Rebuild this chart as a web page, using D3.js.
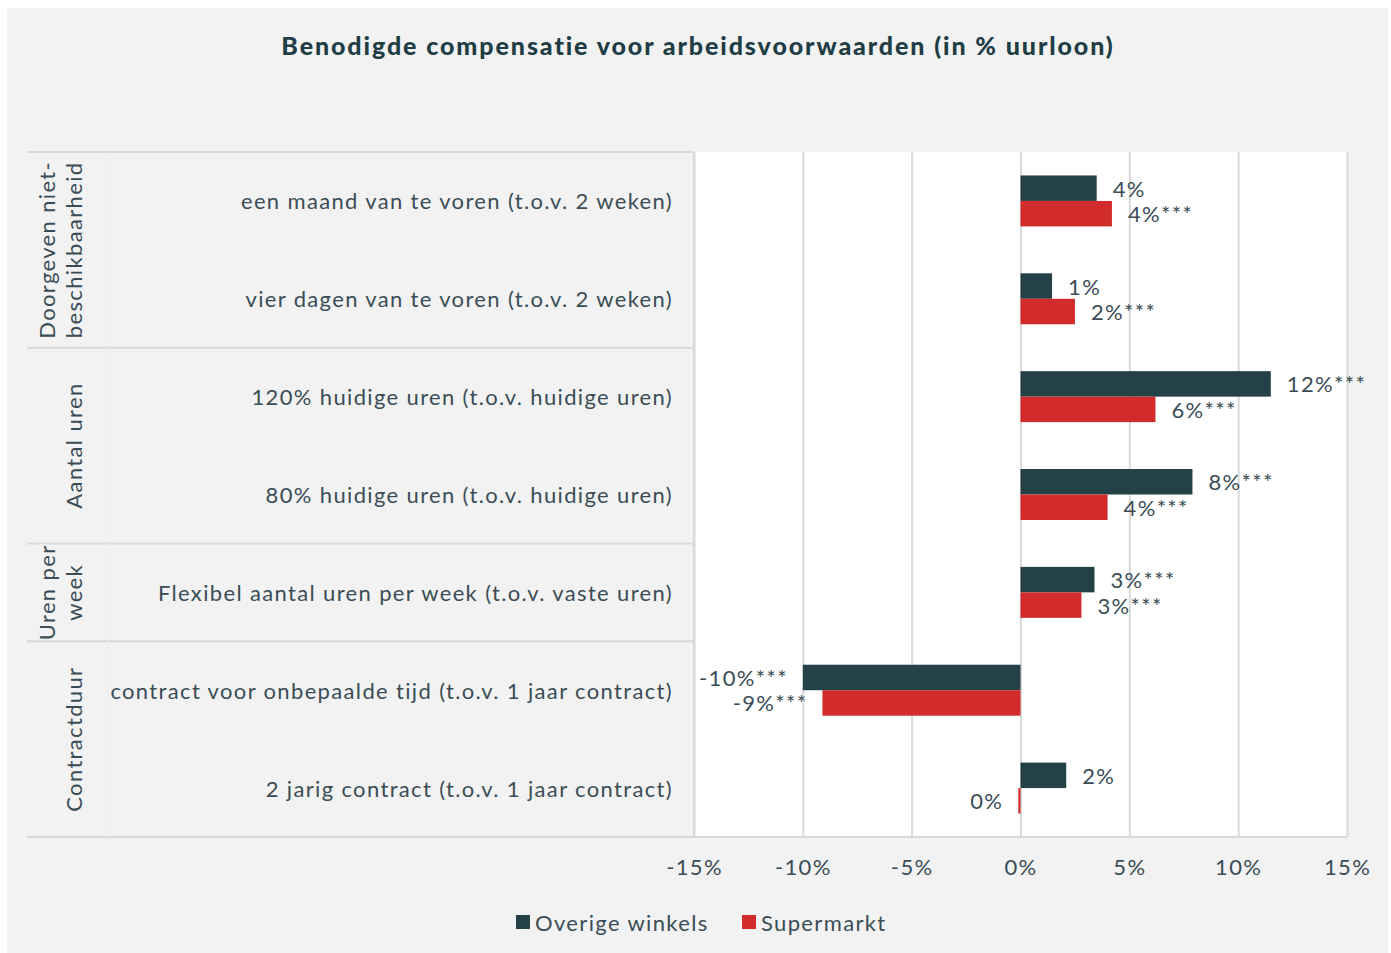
<!DOCTYPE html>
<html>
<head>
<meta charset="utf-8">
<script src="https://cdn.jsdelivr.net/npm/d3@7"></script>
<style>
  html, body { margin: 0; padding: 0; background: #ffffff; }
  svg { display: block; font-family: Lato, "Open Sans", sans-serif; }
  svg text { letter-spacing: 1.35px; }
  svg text.title { letter-spacing: 1.9px; }
</style>
</head>
<body>
<svg id="chart" width="1391" height="953"></svg>
<script>
// ---- data ----
const categories = [
  "een maand van te voren (t.o.v. 2 weken)",
  "vier dagen van te voren (t.o.v. 2 weken)",
  "120% huidige uren (t.o.v. huidige uren)",
  "80% huidige uren (t.o.v. huidige uren)",
  "Flexibel aantal uren per week (t.o.v. vaste uren)",
  "contract voor onbepaalde tijd (t.o.v. 1 jaar contract)",
  "2 jarig contract (t.o.v. 1 jaar contract)"
];
const groupNames = [
  ["Doorgeven niet-", "beschikbaarheid"],
  ["Aantal uren"],
  ["Uren per", "week"],
  ["Contractduur"]
];
const groupSizes = [2, 2, 1, 2];
const seriesNames = ["Overige winkels", "Supermarkt"];
const overigeValues = [3.5, 1.45, 11.5, 7.9, 3.4, -10.0, 2.1];
const supermarktValues = [4.2, 2.5, 6.2, 4.0, 2.8, -9.1, -0.1];
const overigeLabels = ["4%", "1%", "12%***", "8%***", "3%***", "-10%***", "2%"];
const supermarktLabels = ["4%***", "2%***", "6%***", "4%***", "3%***", "-9%***", "0%"];
const tickValues = [-15, -10, -5, 0, 5, 10, 15];
const titleText = "Benodigde compensatie voor arbeidsvoorwaarden (in % uurloon)";

// ---- styles ----
const colors = ["#254148", "#d22b2b"];
const textColor = "#3a4d56";
const gridColor = "#d9d9d9";

const svg = d3.select("#chart");

// background panel
svg.append("rect").attr("x", 7).attr("y", 8).attr("width", 1381).attr("height", 945).attr("fill", "#f2f2f2");

const plotL = 694, plotR = 1347, plotT = 152, plotB = 837;

const x = d3.scaleLinear().domain([-15, 15]).range([plotL, plotR]);
const y = d3.scaleBand().domain(categories).range([plotT, plotB]).padding(0);
const ySub = d3.scaleBand().domain(seriesNames).range([0, y.bandwidth()]).paddingInner(0).paddingOuter(0.92);

// plot area background
svg.append("rect").attr("x", plotL).attr("y", plotT).attr("width", plotR - plotL).attr("height", plotB - plotT).attr("fill", "#ffffff");

// gridlines
const gridAxis = d3.axisBottom(x).tickValues(tickValues).tickSize(-(plotB - plotT)).tickFormat("");
const gg = svg.append("g").attr("transform", `translate(0,${plotB})`).call(gridAxis);
gg.select(".domain").remove();
gg.selectAll("line").attr("stroke", gridColor).attr("stroke-width", 2);

// tick labels
const labelAxis = d3.axisBottom(x).tickValues(tickValues).tickSize(0).tickPadding(22).tickFormat(d => d + "%");
const la = svg.append("g").attr("transform", `translate(0,${plotB})`).call(labelAxis);
la.select(".domain").remove();
la.selectAll("text").attr("fill", textColor).attr("font-size", 22).attr("font-family", "Lato, sans-serif");

// left category area lines
let cum = 0;
const boundaries = [0];
groupSizes.forEach(s => { cum += s; boundaries.push(cum); });
boundaries.forEach(b => {
  const yy = b < categories.length ? y(categories[b]) : plotB;
  svg.append("line").attr("x1", 27).attr("x2", plotL).attr("y1", yy).attr("y2", yy)
    .attr("stroke", gridColor).attr("stroke-width", 2);
});
svg.append("line").attr("x1", plotL).attr("x2", plotL).attr("y1", plotT).attr("y2", plotB).attr("stroke", gridColor).attr("stroke-width", 2);
svg.append("line").attr("x1", 27).attr("x2", plotR).attr("y1", plotB).attr("y2", plotB).attr("stroke", gridColor).attr("stroke-width", 2);
svg.append("line").attr("x1", 108).attr("x2", 108).attr("y1", plotT).attr("y2", plotB).attr("stroke", "#eeeeee").attr("stroke-width", 1);

// category labels
svg.append("g").selectAll("text").data(categories).join("text")
  .attr("x", 673).attr("y", d => y(d) + y.bandwidth() / 2)
  .attr("text-anchor", "end").attr("dominant-baseline", "central")
  .attr("fill", textColor).attr("font-size", 22).text(d => d);

// group labels (rotated)
let start = 0;
groupNames.forEach((lines, gi) => {
  const y0 = y(categories[start]);
  const end = start + groupSizes[gi];
  const y1 = end < categories.length ? y(categories[end]) : plotB;
  const cy = (y0 + y1) / 2;
  const n = lines.length;
  lines.forEach((ln, li) => {
    const cx = 73 - (n - 1 - li) * 27;
    svg.append("text")
      .attr("transform", `translate(${cx},${cy}) rotate(-90)`)
      .attr("text-anchor", "middle").attr("dominant-baseline", "central")
      .attr("fill", textColor).attr("font-size", 22).text(ln);
  });
  start = end;
});

// bars
const seriesData = [overigeValues, supermarktValues];
const seriesLabels = [overigeLabels, supermarktLabels];
seriesData.forEach((vals, si) => {
  const g = svg.append("g");
  const rows = categories.map((c, i) => ({ c, v: vals[i], lab: seriesLabels[si][i] }));
  g.selectAll("rect").data(rows).join("rect")
    .attr("x", d => x(Math.min(0, d.v)))
    .attr("y", d => y(d.c) + ySub(seriesNames[si]))
    .attr("width", d => Math.max(1.5, Math.abs(x(d.v) - x(0))))
    .attr("height", ySub.bandwidth())
    .attr("fill", colors[si]);
  g.selectAll("text").data(rows).join("text")
    .attr("x", d => d.v >= 0 ? x(d.v) + 16 : x(d.v) - 15)
    .attr("y", d => y(d.c) + ySub(seriesNames[si]) + ySub.bandwidth() / 2)
    .attr("text-anchor", d => d.v >= 0 ? "start" : "end")
    .attr("dominant-baseline", "central")
    .attr("fill", textColor).attr("font-size", 22).text(d => d.lab);
});

// title
svg.append("text").attr("class", "title").attr("x", 698).attr("y", 45).attr("text-anchor", "middle")
  .attr("dominant-baseline", "central").attr("font-weight", 900)
  .attr("font-size", 25).attr("fill", "#1f3d45").text(titleText);

// legend
const legend = svg.append("g");
const legX = [516, 742];
seriesNames.forEach((s, i) => {
  legend.append("rect").attr("x", legX[i]).attr("y", 915).attr("width", 14).attr("height", 14).attr("fill", colors[i]);
  legend.append("text").attr("x", legX[i] + 19).attr("y", 922).attr("dominant-baseline", "central")
    .attr("fill", textColor).attr("font-size", 22).text(s);
});
</script>
</body>
</html>
